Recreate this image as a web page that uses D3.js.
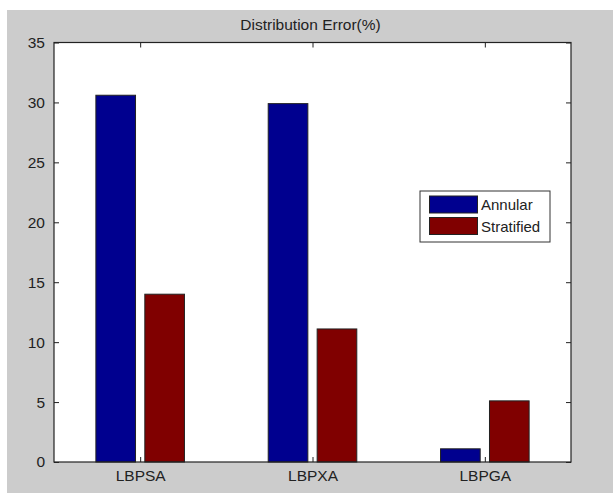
<!DOCTYPE html>
<html><head><meta charset="utf-8">
<script src="https://cdn.jsdelivr.net/npm/d3@7"></script>
<style>body{margin:0;background:#fff;}svg{display:block;}text{font-family:"Liberation Sans",Arial,sans-serif;}</style>
</head><body>
<svg id="c" width="613" height="498"></svg>
<script>
const categories = ["LBPSA", "LBPXA", "LBPGA"];
const seriesNames = ["Annular", "Stratified"];
const annular = [30.6, 29.9, 1.1];
const stratified = [14.0, 11.1, 5.1];
const yTicks = [0, 5, 10, 15, 20, 25, 30, 35];
const colors = ["#00008f", "#800000"];
const title = "Distribution Error(%)";

const svg = d3.select("#c");
svg.append("rect").attr("x", 7).attr("y", 10).attr("width", 606).attr("height", 483).attr("fill", "#cccccc");

const L = 54, R = 571, T = 42.5, B = 462;
const x = d3.scaleLinear().domain([0.5, 3.5]).range([L, R]);
const y = d3.scaleLinear().domain([0, 35]).range([B, T]);

svg.append("rect").attr("x", L).attr("y", T).attr("width", R - L).attr("height", B - T).attr("fill", "#fff");

const series = [annular, stratified];
const bw = 0.23, off = 0.142;
series.forEach((vals, si) => {
  svg.append("g").selectAll("rect").data(vals).join("rect")
    .attr("x", (d, i) => x(i + 1 + (si === 0 ? -off : off) - bw / 2))
    .attr("width", x(1 + bw) - x(1))
    .attr("y", d => y(d))
    .attr("height", d => y(0) - y(d))
    .attr("fill", colors[si])
    .attr("stroke", "#222").attr("stroke-width", 1);
});

const tickLen = 5;
const axisColor = "#222";
const fs = 15.5;
const yAxis = d3.axisLeft(y).tickValues(yTicks).tickSizeInner(-tickLen).tickSizeOuter(0).tickPadding(9);
const gy = svg.append("g").attr("transform", `translate(${L},0)`).call(yAxis);
const yAxisR = d3.axisRight(y).tickValues(yTicks).tickSizeInner(-tickLen).tickSizeOuter(0).tickFormat("");
const gyr = svg.append("g").attr("transform", `translate(${R},0)`).call(yAxisR);
const xAxis = d3.axisBottom(x).tickValues([1, 2, 3]).tickFormat((d) => categories[d - 1]).tickSizeInner(-tickLen).tickSizeOuter(0).tickPadding(8);
const gx = svg.append("g").attr("transform", `translate(0,${B})`).call(xAxis);
const xAxisT = d3.axisTop(x).tickValues([1, 2, 3]).tickFormat("").tickSizeInner(-tickLen).tickSizeOuter(0);
const gxt = svg.append("g").attr("transform", `translate(0,${T})`).call(xAxisT);

[gy, gyr, gx, gxt].forEach(g => {
  g.selectAll("path.domain").remove();
  g.selectAll("line").attr("stroke", axisColor);
  g.selectAll("text").attr("font-size", fs).attr("fill", "#222").attr("font-family", "\"Liberation Sans\",Arial,sans-serif");
});
gx.selectAll("text").attr("dy", "0.71em");

svg.append("rect").attr("x", L).attr("y", T).attr("width", R - L).attr("height", B - T)
  .attr("fill", "none").attr("stroke", axisColor).attr("stroke-width", 1.2);

svg.append("text").attr("x", (L + R) / 2 - 2).attr("y", 30).attr("text-anchor", "middle")
  .attr("font-size", fs).attr("fill", "#222").text(title);

const lg = svg.append("g");
lg.append("rect").attr("x", 420).attr("y", 191).attr("width", 130).attr("height", 51)
  .attr("fill", "#fff").attr("stroke", "#333").attr("stroke-width", 1);
seriesNames.forEach((n, i) => {
  lg.append("rect").attr("x", 429.5).attr("y", 196 + i * 21.5).attr("width", 48).attr("height", 17)
    .attr("fill", colors[i]).attr("stroke", "#222");
  lg.append("text").attr("x", 481).attr("y", 210 + i * 21.5).attr("font-size", 15).attr("fill", "#222").text(n);
});
</script>
</body></html>
